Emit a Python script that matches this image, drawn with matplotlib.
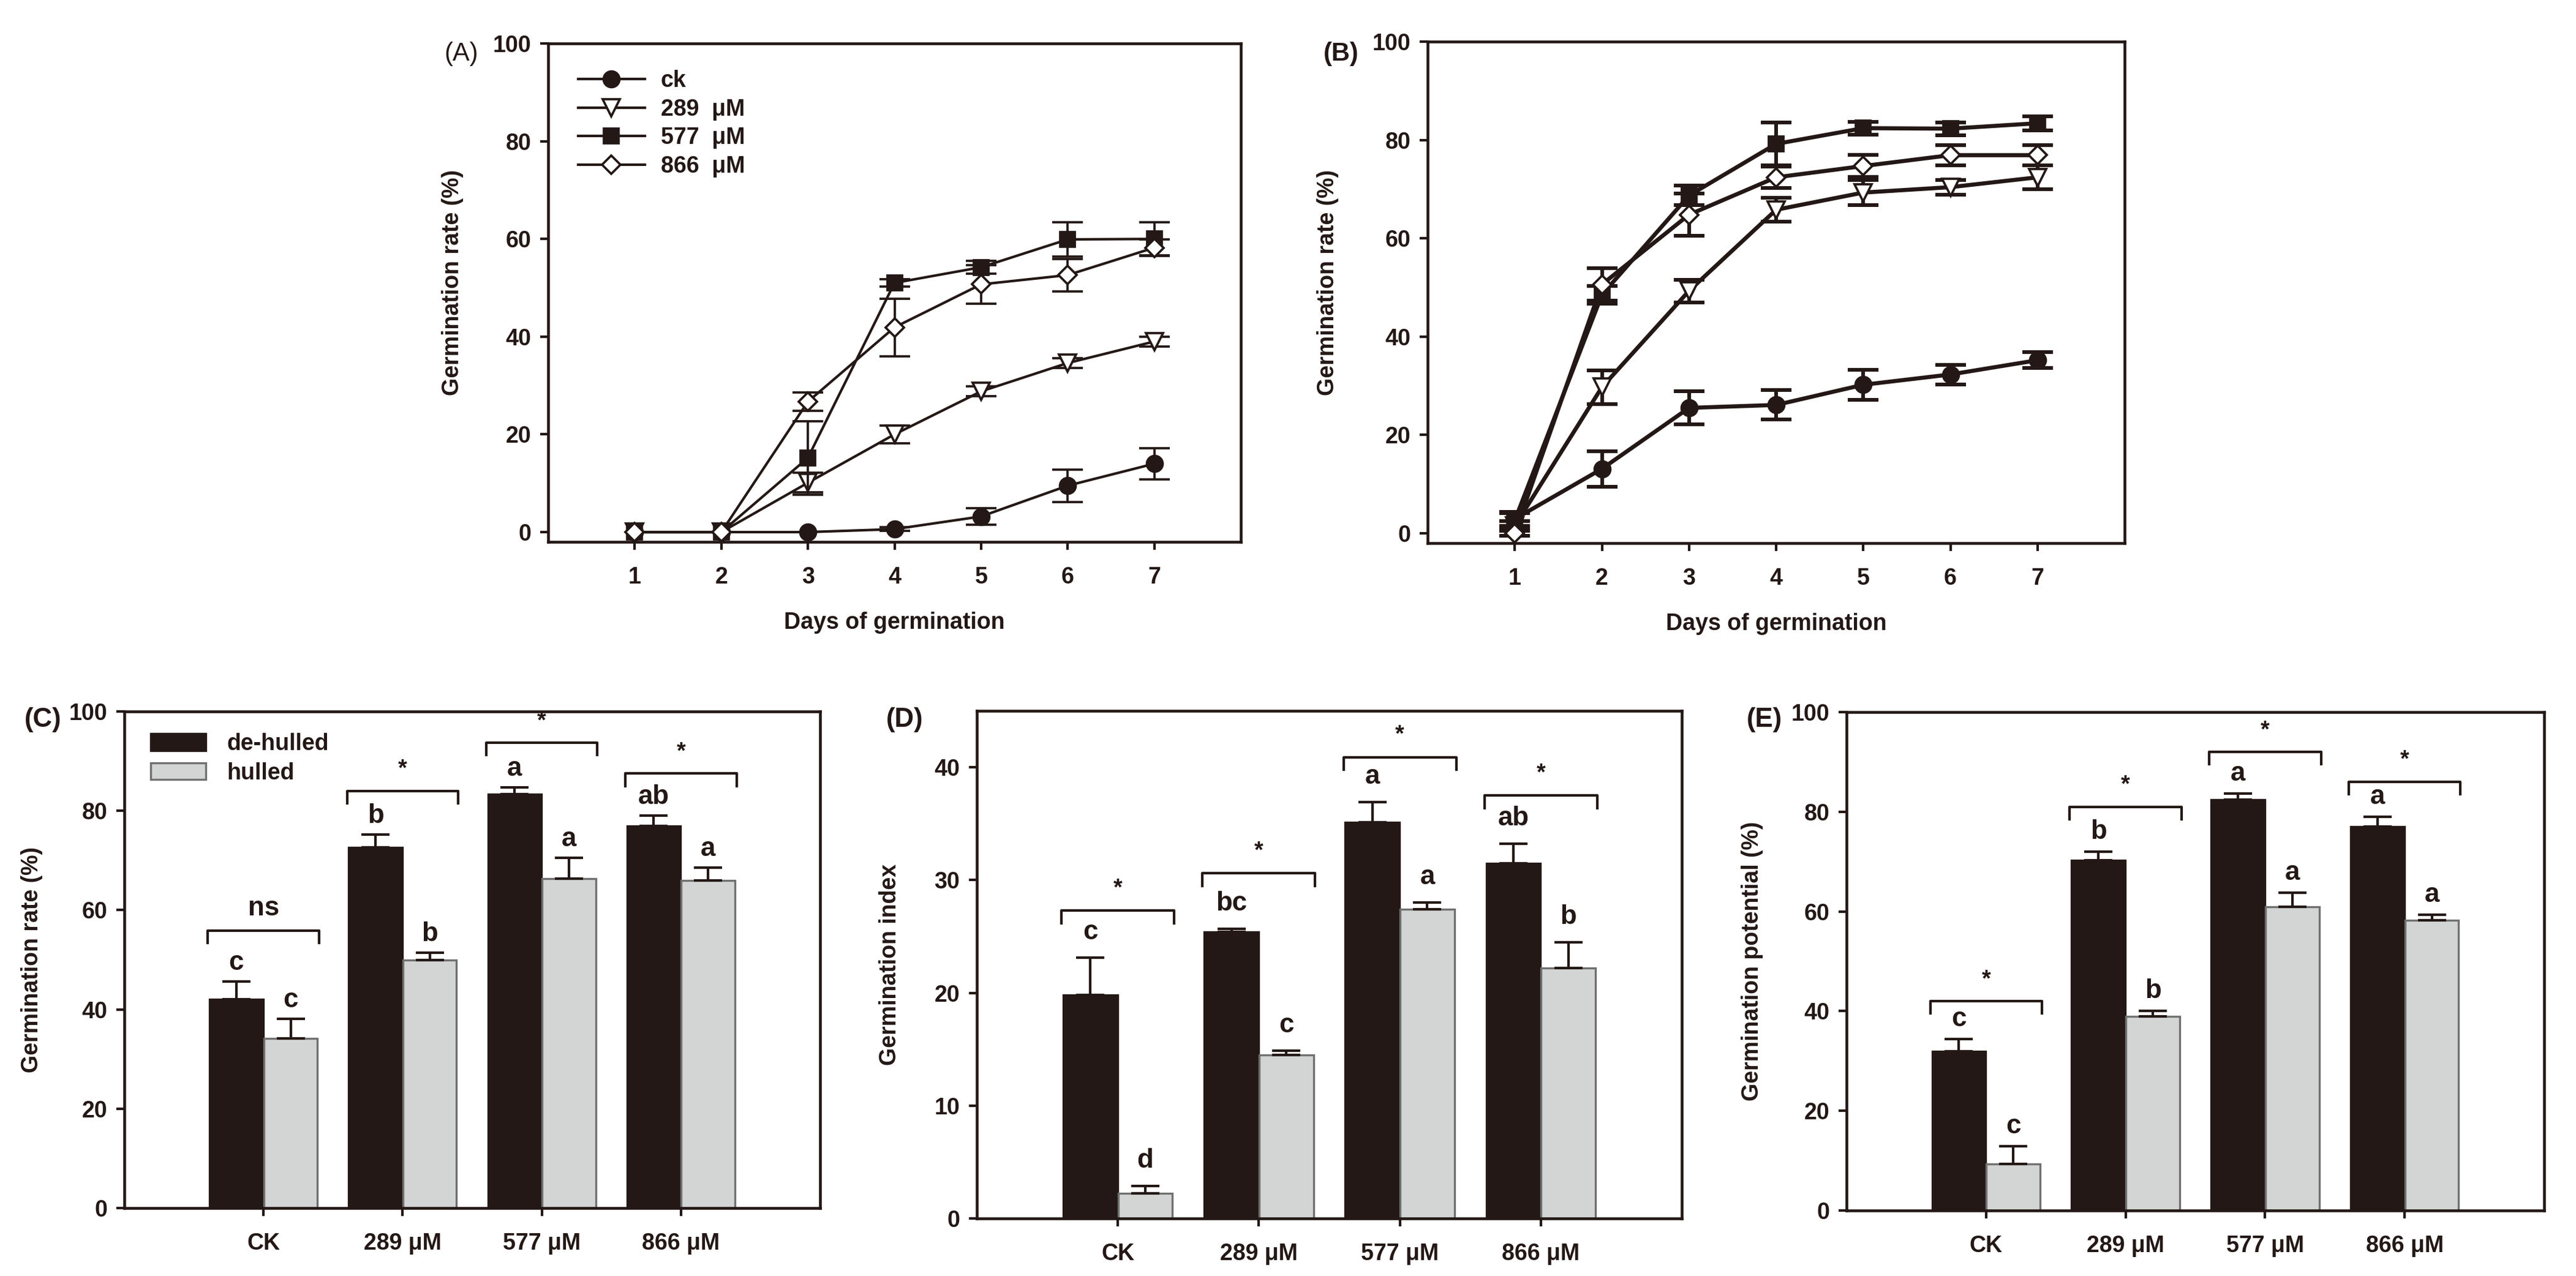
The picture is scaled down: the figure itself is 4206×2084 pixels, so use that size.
"""Germination curves (A, B) and bar summaries (C, D, E) for de-hulled vs hulled seeds."""

import matplotlib

matplotlib.use("Agg")
import matplotlib.pyplot as plt
import numpy as np
from matplotlib.patches import Patch

INK = "#231815"
GRAY = "#d3d5d4"
GRAY_EDGE = "#707070"

W, H = 4206, 2084

# ---- line panels -------------------------------------------------------
DAYS = [1, 2, 3, 4, 5, 6, 7]
SERIES_LABELS = ["ck", "289  \u03bcM", "577  \u03bcM", "866  \u03bcM"]

A_CK = [0, 0, 0, 0.6, 3.2, 9.5, 14.0]
A_CK_ERR = [0, 0, 0, 0.4, 1.7, 3.3, 3.2]
A_289 = [0, 0, 10.1, 20.0, 28.8, 34.6, 39.0]
A_289_ERR = [0, 0, 2.0, 1.8, 1.0, 1.0, 1.0]
A_577 = [0, 0, 15.2, 51.0, 54.2, 59.9, 60.0]
A_577_ERR = [0, 0, 7.5, 0.8, 1.3, 3.5, 3.4]
A_866 = [0, 0, 26.7, 41.9, 50.7, 52.6, 58.2]
A_866_ERR = [0, 0, 1.9, 5.9, 3.9, 3.3, 1.7]

B_CK = [2.9, 13.1, 25.5, 26.1, 30.2, 32.3, 35.2]
B_CK_ERR = [1.4, 3.6, 3.4, 3.0, 3.0, 2.0, 1.6]
B_289 = [1.5, 29.7, 49.3, 65.8, 69.3, 70.4, 72.4]
B_289_ERR = [1.0, 3.4, 2.3, 2.4, 2.6, 1.5, 2.4]
B_577 = [2.6, 48.5, 68.7, 79.2, 82.4, 82.3, 83.4]
B_577_ERR = [1.5, 1.8, 2.0, 4.3, 1.3, 1.3, 1.4]
B_866 = [0, 50.6, 64.8, 72.4, 74.7, 76.9, 76.9]
B_866_ERR = [0.5, 3.3, 4.3, 2.2, 2.2, 2.0, 2.0]

# ---- bar panels --------------------------------------------------------
GROUPS = ["CK", "289 \u03bcM", "577 \u03bcM", "866 \u03bcM"]

C_DH = [42.0, 72.6, 83.3, 76.9]
C_DH_ERR = [3.6, 2.6, 1.4, 2.1]
C_H = [34.2, 50.0, 66.3, 66.0]
C_H_ERR = [3.9, 1.4, 4.2, 2.5]
C_DH_LETTERS = ["c", "b", "a", "ab"]
C_H_LETTERS = ["c", "b", "a", "a"]
C_SIG = ["ns", "*", "*", "*"]
C_BRACKET = [55.9, 84.0, 93.7, 87.5]

D_DH = [19.8, 25.4, 35.1, 31.5]
D_DH_ERR = [3.3, 0.3, 1.8, 1.7]
D_H = [2.2, 14.5, 27.4, 22.2]
D_H_ERR = [0.7, 0.4, 0.6, 2.3]
D_DH_LETTERS = ["c", "bc", "a", "ab"]
D_H_LETTERS = ["d", "c", "a", "b"]
D_SIG = ["*", "*", "*", "*"]
D_BRACKET = [27.3, 30.6, 40.9, 37.5]

E_DH = [32.0, 70.3, 82.4, 77.0]
E_DH_ERR = [2.4, 1.7, 1.2, 2.0]
E_H = [9.3, 38.9, 60.9, 58.2]
E_H_ERR = [3.6, 1.2, 2.9, 1.1]
E_DH_LETTERS = ["c", "b", "a", "a"]
E_H_LETTERS = ["c", "b", "a", "a"]
E_SIG = ["*", "*", "*", "*"]
E_BRACKET = [42.0, 81.0, 92.0, 86.0]

plt.rcParams["font.family"] = ["Liberation Sans", "DejaVu Sans"]
plt.rcParams["font.weight"] = "bold"
plt.rcParams["font.size"] = 9
plt.rcParams["text.color"] = INK
plt.rcParams["axes.labelcolor"] = INK
plt.rcParams["axes.labelweight"] = "bold"
plt.rcParams["xtick.color"] = INK
plt.rcParams["ytick.color"] = INK


def px_axes(fig, left, top, right, bottom):
    return fig.add_axes([left / W, 1 - bottom / H, (right - left) / W, (bottom - top) / H])


def style_axes(ax):
    for spine in ax.spines.values():
        spine.set_linewidth(1.1)
        spine.set_color(INK)
    ax.tick_params(direction="out", length=3.2, width=1.0, labelsize=9)
    ax.tick_params(axis="x", pad=6.5)
    ax.tick_params(axis="y", pad=3.5)
    ax.tick_params(top=False, right=False)


MARKERS = [
    dict(marker="o", ms=6.2, mfc=INK),
    dict(marker="v", ms=6.5, mfc="white"),
    dict(marker="s", ms=5.6, mfc=INK),
    dict(marker="D", ms=5.2, mfc="white"),
]


def plot_curves(ax, series, errors, lw, legend=False):
    x = np.array(DAYS)
    for i, (vals, errs) in enumerate(zip(series, errors)):
        vals = np.array(vals, float)
        errs = np.array(errs, float)
        keep = errs > 0
        ax.errorbar(x[keep], vals[keep], yerr=errs[keep], fmt="none", ecolor=INK,
                    elinewidth=lw * 0.9, capsize=6.0, capthick=lw * 0.9, zorder=2 + 2 * i)
        ax.plot(x, vals, color=INK, lw=lw, mec=INK, mew=0.9, label=SERIES_LABELS[i],
                zorder=3 + 2 * i, **MARKERS[i])
    ax.set_xlim(0, 8)
    ax.set_ylim(-2, 100)
    ax.set_xticks(DAYS)
    ax.set_yticks([0, 20, 40, 60, 80, 100])
    ax.set_xlabel("Days of germination", fontsize=9, labelpad=9)
    ax.set_ylabel("Germination rate (%)", fontsize=9)
    if legend:
        ax.legend(loc="upper left", bbox_to_anchor=(0.03, 0.965), frameon=False,
                  fontsize=9, handlelength=2.9, labelspacing=0.28, handletextpad=0.7,
                  borderaxespad=0)


def plot_bars(ax, dh, dh_err, h, h_err, dh_let, h_let, sig, bracket, ymax, yticks,
              ylabel, letter_off, legend=False):
    x = np.arange(len(GROUPS))
    off, width = 0.195, 0.385
    ax.bar(x - off, dh, width, color=INK, edgecolor=INK, lw=0.8, zorder=2,
           label="de-hulled")
    ax.bar(x + off, h, width, color=GRAY, edgecolor=GRAY_EDGE, lw=0.8, zorder=2,
           label="hulled")
    zeros = np.zeros(len(x))
    ax.errorbar(x - off, dh, yerr=[zeros, dh_err], fmt="none", ecolor=INK,
                elinewidth=1.0, capsize=5.5, capthick=1.0, zorder=3)
    ax.errorbar(x + off, h, yerr=[zeros, h_err], fmt="none", ecolor=INK,
                elinewidth=1.0, capsize=5.5, capthick=1.0, zorder=3)

    for i in range(len(x)):
        ax.text(x[i] - off, dh[i] + dh_err[i] + letter_off * ymax, dh_let[i],
                ha="center", va="center", fontsize=10.5, fontweight="bold")
        ax.text(x[i] + off, h[i] + h_err[i] + letter_off * ymax, h_let[i],
                ha="center", va="center", fontsize=10.5, fontweight="bold")
        b = bracket[i]
        drop = 0.025 * ymax
        ax.plot([x[i] - 0.4, x[i] - 0.4, x[i] + 0.4, x[i] + 0.4],
                [b - drop, b, b, b - drop], color=INK, lw=1.0, zorder=3)
        if sig[i] == "ns":
            ax.text(x[i], b + 0.045 * ymax, sig[i], ha="center", va="center",
                    fontsize=10.5, fontweight="bold")
        else:
            ax.text(x[i], b + 0.043 * ymax, sig[i], ha="center", va="center",
                    fontsize=9, fontweight="bold")

    ax.set_xlim(-1, 4)
    ax.set_ylim(0, ymax)
    ax.set_xticks(x)
    ax.set_xticklabels(GROUPS)
    ax.set_yticks(yticks)
    ax.set_ylabel(ylabel, fontsize=9)
    if legend:
        ax.legend(loc="upper left", bbox_to_anchor=(0.025, 0.975), frameon=False,
                  fontsize=9, handlelength=2.4, handleheight=0.75, labelspacing=0.3,
                  handletextpad=0.9, borderaxespad=0)


fig = plt.figure(figsize=(W / 300, H / 300), dpi=300)

ax_a = px_axes(fig, 895, 71, 2026, 885)
style_axes(ax_a)
plot_curves(ax_a, [A_CK, A_289, A_577, A_866],
            [A_CK_ERR, A_289_ERR, A_577_ERR, A_866_ERR], lw=1.0, legend=True)
ax_a.yaxis.set_label_coords(-0.122, 0.52)

ax_b = px_axes(fig, 2331, 68, 3469, 887)
style_axes(ax_b)
plot_curves(ax_b, [B_CK, B_289, B_577, B_866],
            [B_CK_ERR, B_289_ERR, B_577_ERR, B_866_ERR], lw=1.6)
ax_b.yaxis.set_label_coords(-0.127, 0.52)

ax_c = px_axes(fig, 203, 1162, 1339, 1973)
style_axes(ax_c)
plot_bars(ax_c, C_DH, C_DH_ERR, C_H, C_H_ERR, C_DH_LETTERS, C_H_LETTERS, C_SIG,
          C_BRACKET, 100, [0, 20, 40, 60, 80, 100], "Germination rate (%)", 0.038,
          legend=True)
ax_c.yaxis.set_label_coords(-0.117, 0.5)

ax_d = px_axes(fig, 1595, 1161, 2746, 1990)
style_axes(ax_d)
plot_bars(ax_d, D_DH, D_DH_ERR, D_H, D_H_ERR, D_DH_LETTERS, D_H_LETTERS, D_SIG,
          D_BRACKET, 45, [0, 10, 20, 30, 40], "Germination index", 0.05)
ax_d.yaxis.set_label_coords(-0.108, 0.5)

ax_e = px_axes(fig, 3015, 1163, 4154, 1977)
style_axes(ax_e)
plot_bars(ax_e, E_DH, E_DH_ERR, E_H, E_H_ERR, E_DH_LETTERS, E_H_LETTERS, E_SIG,
          E_BRACKET, 100, [0, 20, 40, 60, 80, 100], "Germination potential (%)", 0.04)
ax_e.yaxis.set_label_coords(-0.119, 0.5)

# panel tags
fig.text(753 / W, 1 - 88 / H, "(A)", ha="center", va="center", fontsize=10,
         fontweight="normal")
fig.text(2190 / W, 1 - 88 / H, "(B)", ha="center", va="center", fontsize=10)
fig.text(70 / W, 1 - 1175 / H, "(C)", ha="center", va="center", fontsize=10.5)
fig.text(1477 / W, 1 - 1176 / H, "(D)", ha="center", va="center", fontsize=10.5)
fig.text(2881 / W, 1 - 1175 / H, "(E)", ha="center", va="center", fontsize=10.5)

fig.savefig("out.png", dpi=300, facecolor="white")
